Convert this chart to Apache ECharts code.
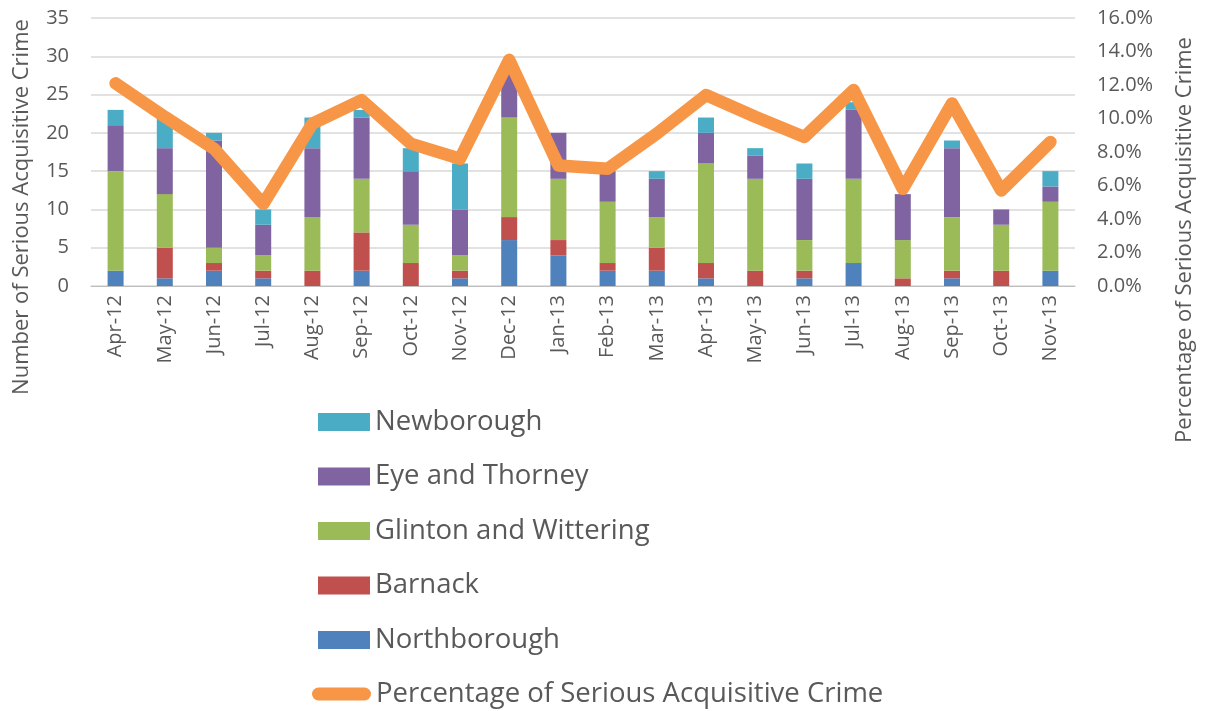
<!DOCTYPE html>
<html>
<head>
<meta charset="utf-8">
<title>Serious Acquisitive Crime</title>
<script src="https://cdn.jsdelivr.net/npm/echarts@6/dist/echarts.min.js"></script>
<style>
html, body { margin: 0; padding: 0; background: #fff; }
#chart { width: 1209px; height: 711px; }
</style>
</head>
<body>
<div id="chart"></div>
<script>
// categories
var months = ['Apr-12', 'May-12', 'Jun-12', 'Jul-12', 'Aug-12', 'Sep-12', 'Oct-12', 'Nov-12', 'Dec-12', 'Jan-13',
	'Feb-13', 'Mar-13', 'Apr-13', 'May-13', 'Jun-13', 'Jul-13', 'Aug-13', 'Sep-13', 'Oct-13', 'Nov-13'];

// stacked counts, bottom to top
var northborough = [2, 1, 2, 1, 0, 2, 0, 1, 6, 4, 2, 2, 1, 0, 1, 3, 0, 1, 0, 2];
var barnack = [0, 4, 1, 1, 2, 5, 3, 1, 3, 2, 1, 3, 2, 2, 1, 0, 1, 1, 2, 0];
var glinton = [13, 7, 2, 2, 7, 7, 5, 2, 13, 8, 8, 4, 13, 12, 4, 11, 5, 7, 6, 9];
var eyeThorney = [6, 6, 14, 4, 9, 8, 7, 6, 6, 6, 4, 5, 4, 3, 8, 9, 6, 9, 2, 2];
var newborough = [2, 4, 1, 2, 4, 1, 3, 6, 0, 0, 0, 1, 2, 1, 2, 1, 0, 1, 0, 2];

// percentage line (right axis)
var pctSerious = [12.1, 10.1, 8.2, 4.9, 9.7, 11.1, 8.5, 7.6, 13.5, 7.2, 7.0, 9.1, 11.4, 10.1, 8.9, 11.7, 5.8, 10.9, 5.7, 8.6];

var leftTicks = { min: 0, max: 35, interval: 5 };
var rightTicks = { min: 0, max: 16, interval: 2 };

var FONT = '"Open Sans"';
var TXT = '#595959';

var chart = echarts.init(document.getElementById('chart'));

function barSeries(name, data, color) {
	return {
		name: name,
		type: 'bar',
		stack: 'crime',
		barWidth: 16,
		data: data,
		itemStyle: { color: color },
		emphasis: { disabled: true }
	};
}

var option = {
	animation: false,
	textStyle: { fontFamily: FONT, color: TXT },
	grid: { left: 91, right: 134, top: 18, bottom: 425 },
	legend: [{
		// bar legend, top to bottom
		orient: 'vertical',
		left: 318,
		top: 408,
		padding: 0,
		itemWidth: 52,
		itemHeight: 18,
		itemGap: 26.5,
		icon: 'rect',
		data: ['Newborough', 'Eye and Thorney', 'Glinton and Wittering', 'Barnack', 'Northborough'],
		textStyle: { fontFamily: FONT, fontSize: 27.5, color: TXT, lineHeight: 27.5 },
		selectedMode: false
	}, {
		// line legend
		orient: 'vertical',
		left: 312,
		top: 680,
		padding: 0,
		itemWidth: 59,
		itemHeight: 13,
		data: [{
			name: 'Percentage of Serious Acquisitive Crime',
			icon: 'path://M6.5,0 L52.5,0 A6.5,6.5 0 0 1 52.5,13 L6.5,13 A6.5,6.5 0 0 1 6.5,0 Z'
		}],
		textStyle: { fontFamily: FONT, fontSize: 27.5, color: TXT, lineHeight: 27.5 },
		selectedMode: false
	}],
	xAxis: {
		type: 'category',
		data: months,
		axisLine: { lineStyle: { color: '#BFBFBF', width: 1 } },
		axisTick: { length: 7, lineStyle: { color: '#BFBFBF' } },
		axisLabel: { rotate: 90, fontSize: 20, color: TXT, fontFamily: FONT, margin: 9 }
	},
	yAxis: [{
		type: 'value',
		min: leftTicks.min,
		max: leftTicks.max,
		interval: leftTicks.interval,
		axisLine: { show: false },
		axisTick: { show: false },
		axisLabel: { fontSize: 20, color: TXT, fontFamily: FONT, margin: 22 },
		splitLine: { lineStyle: { color: '#D9D9D9', width: 1.5 } }
	}, {
		type: 'value',
		min: rightTicks.min,
		max: rightTicks.max,
		interval: rightTicks.interval,
		position: 'right',
		axisLine: { show: false },
		axisTick: { show: false },
		splitLine: { show: false },
		axisLabel: {
			fontSize: 20, color: TXT, fontFamily: FONT, margin: 22,
			formatter: function(v) { return v.toFixed(1) + '%'; }
		}
	}],
	graphic: [{
		type: 'text',
		x: 22,
		y: 207,
		rotation: Math.PI / 2,
		style: {
			text: 'Number of Serious Acquisitive Crime',
			font: '22px ' + FONT,
			fill: TXT,
			align: 'center',
			verticalAlign: 'middle'
		}
	}, {
		type: 'text',
		x: 1185,
		y: 240,
		rotation: Math.PI / 2,
		style: {
			text: 'Percentage of Serious Acquisitive Crime',
			font: '22px ' + FONT,
			fill: TXT,
			align: 'center',
			verticalAlign: 'middle'
		}
	}],
	series: [
		barSeries('Northborough', northborough, '#4F81BD'),
		barSeries('Barnack', barnack, '#C0504D'),
		barSeries('Glinton and Wittering', glinton, '#9BBB59'),
		barSeries('Eye and Thorney', eyeThorney, '#8064A2'),
		barSeries('Newborough', newborough, '#4BACC6'),
		{
			name: 'Percentage of Serious Acquisitive Crime',
			type: 'line',
			yAxisIndex: 1,
			data: pctSerious,
			symbol: 'none',
			itemStyle: { color: '#F79646' },
			lineStyle: { color: '#F79646', width: 12.5, cap: 'round', join: 'round' },
			emphasis: { disabled: true }
		}
	]
};

chart.setOption(option);
</script>
</body>
</html>
